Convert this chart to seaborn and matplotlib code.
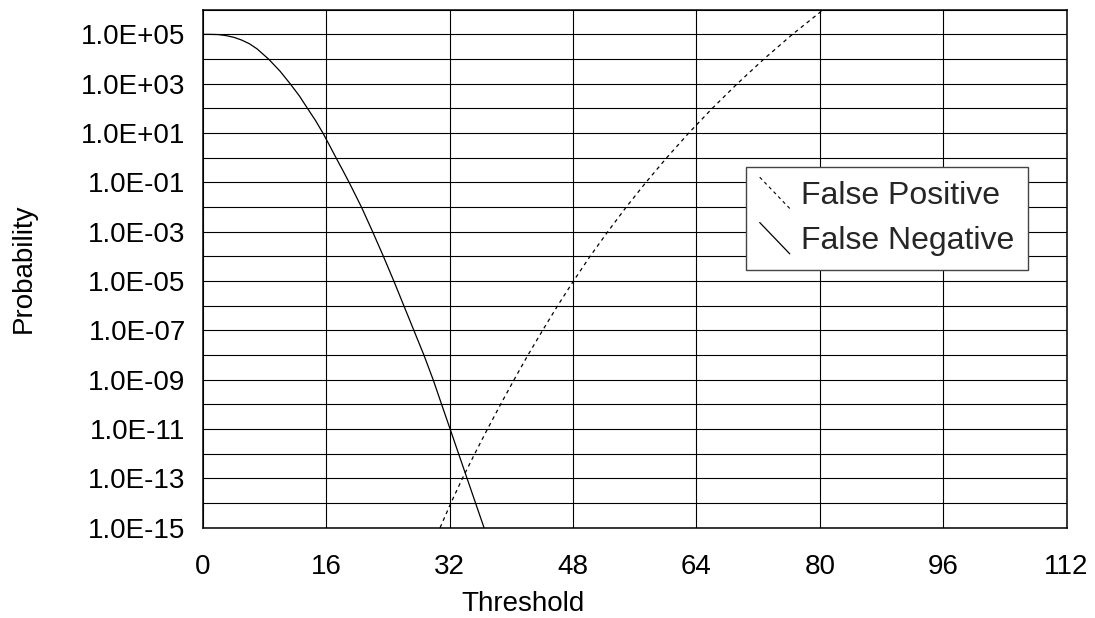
import numpy as np
import pandas as pd
import matplotlib
matplotlib.use("Agg")
import matplotlib.pyplot as plt
import seaborn as sns
from matplotlib.lines import Line2D
from matplotlib.legend_handler import HandlerLine2D
from matplotlib.ticker import FixedLocator, FuncFormatter

# ---- data ----
fn_threshold = [0, 1.0, 2.0, 3.0, 4.0, 5.0, 6.0, 7.0, 8.5, 10.0, 11.3, 12.5, 13.55,
                14.6, 15.55, 16.4, 17.25, 18.1, 18.95, 20.55, 22.0, 23.4, 24.75,
                26.05, 27.35, 28.65, 29.85, 30.95, 32.05, 33.15, 34.25, 35.35, 36.45]
fn_prob = [1.0e5, 1.0e5, 9.8e4, 8.9e4, 7.6e4, 5.9e4, 4.2e4, 2.6e4, 1.0e4, 3.2e3,
           1.0e3, 3.2e2, 1.0e2, 3.2e1, 1.0e1, 3.2e0, 1.0e0, 3.2e-1, 1.0e-1,
           1.0e-2, 1.0e-3, 1.0e-4, 1.0e-5, 1.0e-6, 1.0e-7, 1.0e-8, 1.0e-9,
           1.0e-10, 1.0e-11, 1.0e-12, 1.0e-13, 1.0e-14, 1.0e-15]
fp_threshold = [30.75, 32.15, 33.65, 35.25, 36.9, 38.6, 40.35, 42.15, 44.05, 46.0,
                48.05, 50.2, 52.5, 54.9, 57.45, 60.15, 63.0, 66.05, 69.3, 72.75,
                76.45, 80.45]
fp_prob = [1.0e-15, 1.0e-14, 1.0e-13, 1.0e-12, 1.0e-11, 1.0e-10, 1.0e-9, 1.0e-8,
           1.0e-7, 1.0e-6, 1.0e-5, 1.0e-4, 1.0e-3, 1.0e-2, 1.0e-1, 1.0e0, 1.0e1,
           1.0e2, 1.0e3, 1.0e4, 1.0e5, 1.0e6]
series_names = ["False Positive", "False Negative"]
x_ticks = [0, 16, 32, 48, 64, 80, 96, 112]
y_exponents = list(range(-15, 7))

df = pd.concat([
    pd.DataFrame({"Threshold": fp_threshold, "Probability": fp_prob, "Series": series_names[0]}),
    pd.DataFrame({"Threshold": fn_threshold, "Probability": fn_prob, "Series": series_names[1]}),
], ignore_index=True)

sns.set_style("white")
plt.rcParams["font.family"] = ["Liberation Sans", "DejaVu Sans"]
FS = 20
LFS = 23

fig = plt.figure(figsize=(10.95, 6.18), dpi=100)
ax = fig.add_axes([203 / 1095, 1 - 527.7 / 618, (1066.5 - 203) / 1095, (527.7 - 9.7) / 618])

sns.lineplot(data=df, x="Threshold", y="Probability", hue="Series", style="Series",
             palette={series_names[0]: "black", series_names[1]: "black"},
             dashes={series_names[0]: (3, 3), series_names[1]: ""},
             sort=False, estimator=None, legend=False, linewidth=0.9, ax=ax)

ax.set_yscale("log")
ax.set_xlim(0, 112)
ax.set_ylim(1e-15, 1e6)

ax.xaxis.set_major_locator(FixedLocator(x_ticks))
ax.yaxis.set_major_locator(FixedLocator([10.0 ** e for e in y_exponents]))
ax.yaxis.set_minor_locator(FixedLocator([]))


def yfmt(v, pos):
    e = int(round(np.log10(v)))
    return f"{v:.1E}" if e % 2 != 0 else ""


ax.yaxis.set_major_formatter(FuncFormatter(yfmt))

ax.grid(True, which="major", color="black", linewidth=0.8)
ax.set_axisbelow(True)
for s in ax.spines.values():
    s.set_color("black")
    s.set_linewidth(1.1)

ax.tick_params(axis="both", which="major", direction="out", length=8, width=0.9,
               color="black", labelsize=FS, labelcolor="black")
ax.tick_params(axis="x", pad=11)
ax.tick_params(axis="y", pad=4.5)

ax.set_xlabel("Threshold", fontsize=FS, color="black")
ax.set_ylabel("Probability", fontsize=FS, color="black")
ax.xaxis.set_label_coords(0.3706, -0.122)
ax.yaxis.set_label_coords(-0.193, 0.5)


class HandlerDiag(HandlerLine2D):
    def create_artists(self, legend, orig_handle, xdescent, ydescent, width,
                       height, fontsize, trans):
        x0 = -xdescent
        x1 = -xdescent + width
        y0 = -ydescent + height * 1.2
        y1 = -ydescent - height * 0.2
        line = Line2D([x0, x1], [y0, y1])
        self.update_prop(line, orig_handle, legend)
        line.set_transform(trans)
        return [line]


handles = [Line2D([], [], color="black", linewidth=0.8, linestyle=(0, (3, 3))),
           Line2D([], [], color="black", linewidth=0.9, linestyle="-")]
leg = ax.legend(handles, series_names, loc="upper left",
                bbox_to_anchor=((746 - 203) / 863.5, (527.7 - 167.3) / 518),
                borderaxespad=0, fontsize=LFS, frameon=True, fancybox=False,
                framealpha=1, edgecolor="#444444", borderpad=0.43,
                labelspacing=0.48, handlelength=0.94, handletextpad=0.35,
                handler_map={Line2D: HandlerDiag()})
leg.get_frame().set_linewidth(1.0)

fig.savefig("out.png", dpi=100)
